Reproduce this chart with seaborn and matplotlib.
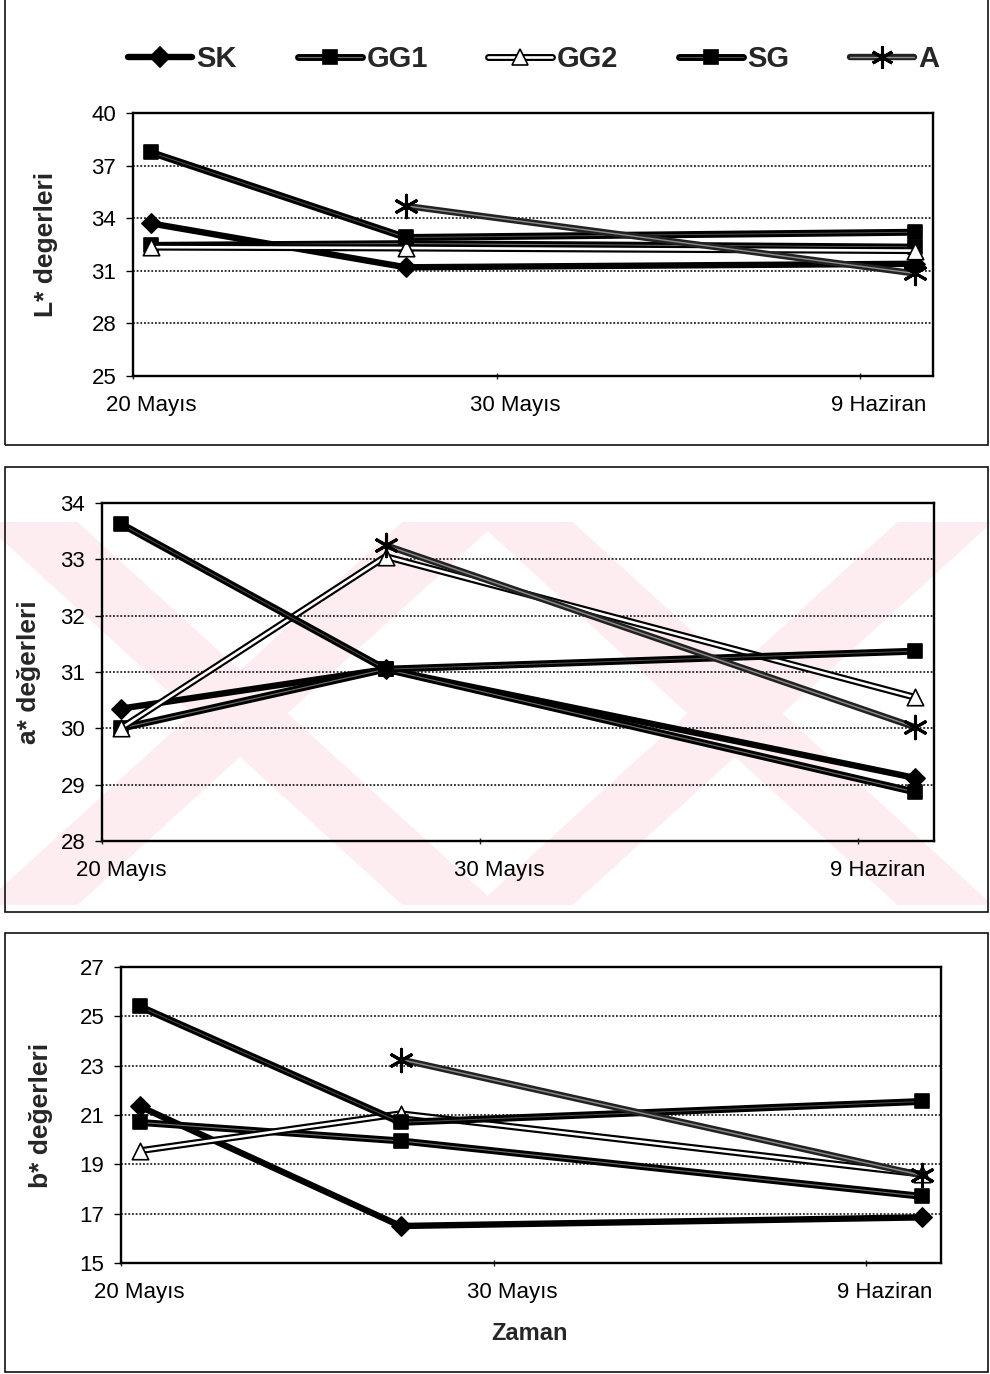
import numpy as np
import pandas as pd
import matplotlib
matplotlib.use("Agg")
import matplotlib.pyplot as plt
import seaborn as sns
from matplotlib.lines import Line2D
from matplotlib.patches import Rectangle, Polygon
from matplotlib.legend_handler import HandlerTuple

# ---- data -------------------------------------------------------------
series = ["SK", "GG1", "GG2", "SG", "A"]
days = [0, 7, 21]                      # days after 20 May (20 May, 27 May, 10 June)
tick_days = [0, 10, 20]
tick_labels = ["20 Mayıs", "30 Mayıs", "9 Haziran"]

L_SK = [33.7, 31.2, 31.4]
L_GG1 = [32.45, 32.55, 32.35]
L_GG2 = [32.35, 32.3, 32.15]
L_SG = [37.75, 32.9, 33.2]
L_A = [np.nan, 34.7, 30.85]

a_SK = [30.35, 31.05, 29.12]
a_GG1 = [30.0, 31.05, 28.87]
a_GG2 = [30.0, 33.05, 30.55]
a_SG = [33.63, 31.05, 31.37]
a_A = [np.nan, 33.25, 30.02]

b_SK = [21.35, 16.5, 16.85]
b_GG1 = [20.7, 19.95, 17.7]
b_GG2 = [19.55, 21.05, 18.6]
b_SG = [25.4, 20.7, 21.55]
b_A = [np.nan, 23.25, 18.55]

# ---- styling ----------------------------------------------------------
sns.set_theme(style="white")
plt.rcParams["font.family"] = ["Liberation Sans", "DejaVu Sans"]

W, H = 990, 1374
fig = plt.figure(figsize=(W / 100, H / 100), dpi=100)


def rect(left, top, right, bottom):
    return [left / W, 1 - bottom / H, (right - left) / W, (bottom - top) / H]


# faint pink stamp behind the middle panel
bg = fig.add_axes([0, 0, 1, 1], zorder=-5)
bg.set_xlim(0, W)
bg.set_ylim(H, 0)
bg.axis("off")
band = 95
for cx in (240, 735):
    for sign in (1, -1):
        x_top, x_bot = cx - sign * 210, cx + sign * 210
        poly = Polygon([(x_top - band / 2, 522), (x_top + band / 2, 522),
                        (x_bot + band / 2, 905), (x_bot - band / 2, 905)],
                       closed=True, facecolor="#fdedf0", edgecolor="none")
        bg.add_patch(poly)

STYLE = {
    "SK":  dict(outer="black", olw=4.6, inner=None, ilw=0, marker="D", s=95, fc="black", ec="black"),
    "GG1": dict(outer="black", olw=5.0, inner="#6e6e6e", ilw=0.8, marker="s", s=100, fc="black", ec="black"),
    "GG2": dict(outer="black", olw=5.0, inner="white", ilw=1.9, marker="^", s=140, fc="white", ec="black"),
    "SG":  dict(outer="black", olw=5.0, inner="#505050", ilw=0.7, marker="s", s=100, fc="black", ec="black"),
    "A":   dict(outer="#222222", olw=4.6, inner="#8c8c8c", ilw=1.0, marker=(6, 2, 0), s=260, fc="black", ec="black"),
}


def draw_panel(ax, values, ylim, yticks, ylabel, ylab_x):
    df = pd.DataFrame({"day": np.array(days, dtype=float) + 0.5})
    for name in series:
        df[name] = values[name]
    for k, name in enumerate(series):
        st = STYLE[name]
        sub = df[["day", name]].dropna()
        z = 3 + 3 * k
        sns.lineplot(data=sub, x="day", y=name, ax=ax, color=st["outer"],
                     lw=st["olw"], sort=False, zorder=z,
                     solid_capstyle="butt", solid_joinstyle="round")
        if st["inner"] is not None:
            sns.lineplot(data=sub, x="day", y=name, ax=ax, color=st["inner"],
                         lw=st["ilw"], sort=False, zorder=z + 0.5)
        lw_m = 2.2 if name == "A" else 1.2
        sns.scatterplot(data=sub, x="day", y=name, ax=ax, marker=st["marker"],
                        s=st["s"], color=st["fc"], edgecolor=st["ec"],
                        linewidth=lw_m, zorder=z + 1, legend=False)
    ax.set_xlim(0, 22)
    ax.set_ylim(*ylim)
    ax.set_yticks(yticks)
    ax.set_yticklabels([str(t) for t in yticks])
    ax.set_xticks([d + 0.5 for d in tick_days])
    ax.set_xticklabels(tick_labels)
    ax.set_xticks(tick_days, minor=True)
    ax.tick_params(axis="x", which="major", length=0, pad=14, labelsize=16, colors="black")
    ax.tick_params(axis="x", which="minor", length=5, width=1, direction="inout", bottom=True)
    ax.tick_params(axis="y", which="major", length=5, width=1, direction="out",
                   left=True, pad=7, labelsize=16, colors="black")
    for sp in ax.spines.values():
        sp.set_visible(True)
        sp.set_color("black")
        sp.set_linewidth(1.7)
    ax.set_xlabel("")
    ax.set_ylabel("")
    for t in yticks[1:-1]:
        ax.axhline(t, color="black", lw=1.1, ls=(0, (1.2, 1.2)), zorder=1)
    ax.set_facecolor("none")
    fig.text(ylab_x / W, (ax.get_position().y0 + ax.get_position().y1) / 2, ylabel,
             rotation=90, ha="center", va="center", fontsize=19, fontweight="bold")


ax1 = fig.add_axes(rect(133, 113, 933, 376))
ax2 = fig.add_axes(rect(102, 503, 934, 841))
ax3 = fig.add_axes(rect(121, 967, 941, 1263))

draw_panel(ax1, dict(SK=L_SK, GG1=L_GG1, GG2=L_GG2, SG=L_SG, A=L_A),
           (25, 40), [25, 28, 31, 34, 37, 40], "L* degerleri", 46)
draw_panel(ax2, dict(SK=a_SK, GG1=a_GG1, GG2=a_GG2, SG=a_SG, A=a_A),
           (28, 34), [28, 29, 30, 31, 32, 33, 34], "a* değerleri", 29)
draw_panel(ax3, dict(SK=b_SK, GG1=b_GG1, GG2=b_GG2, SG=b_SG, A=b_A),
           (15, 27), [15, 17, 19, 21, 23, 25, 27], "b* değerleri", 41)

fig.text(530 / W, 1 - 1333 / H, "Zaman", ha="center", va="center",
         fontsize=17, fontweight="bold")

# panel frames
for top, bottom in [(-10, 445), (467, 912), (933, 1372)]:
    fig.patches.append(Rectangle((5 / W, 1 - bottom / H), (988 - 5) / W, (bottom - top) / H,
                                 transform=fig.transFigure, fill=False,
                                 edgecolor="#111111", lw=1.2, zorder=0))

# legend
handles = []
for name in series:
    st = STYLE[name]
    parts = [Line2D([], [], color=st["outer"], lw=st["olw"])]
    if st["inner"] is not None:
        parts.append(Line2D([], [], color=st["inner"], lw=st["ilw"]))
    ms = np.sqrt(st["s"])
    parts.append(Line2D([], [], ls="none", marker=st["marker"], ms=ms,
                        mfc=st["fc"], mec=st["ec"], mew=2.2 if name == "A" else 1.2))
    handles.append(tuple(parts))

fig.legend(handles, series, loc="center left", bbox_to_anchor=(128 / W, 1 - 59 / H),
           ncol=5, frameon=False, handlelength=2.2, handletextpad=0.15,
           columnspacing=2.08, borderaxespad=0, borderpad=0,
           prop=dict(size=21, weight="bold"),
           handler_map={tuple: HandlerTuple(ndivide=1)})

fig.savefig("out.png", dpi=100, facecolor="white")
